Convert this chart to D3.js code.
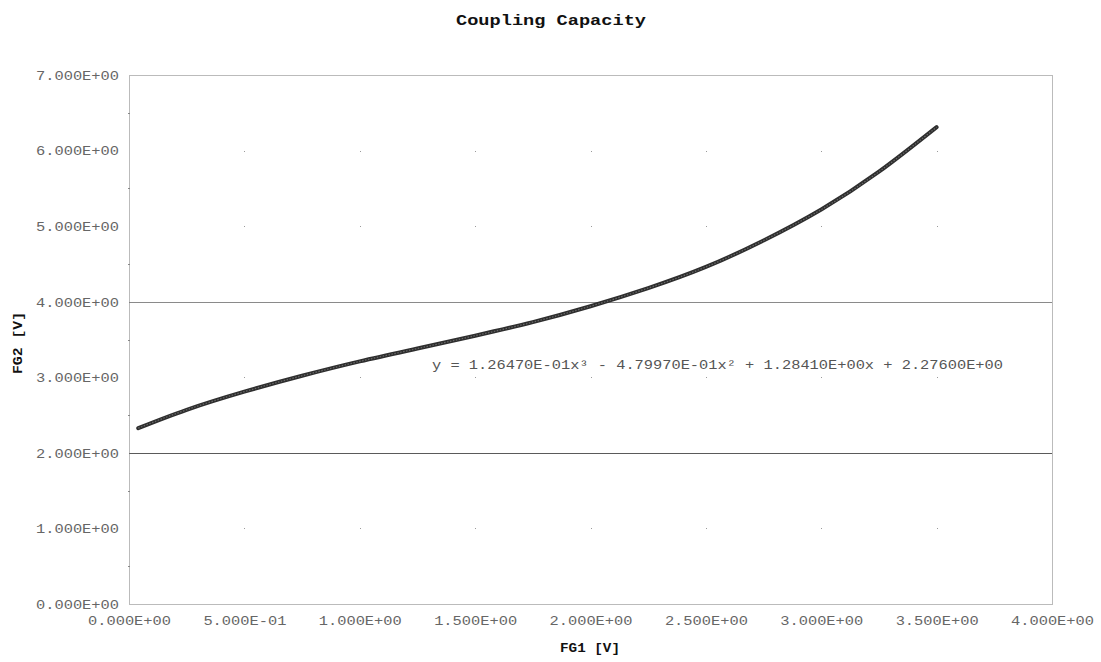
<!DOCTYPE html>
<html>
<head>
<meta charset="utf-8">
<script src="https://cdn.jsdelivr.net/npm/d3@7"></script>
<style>
  html, body { margin: 0; padding: 0; background: #fff; overflow: hidden; }
  svg { display: block; }
</style>
</head>
<body>
<svg id="chart" width="1101" height="662"></svg>
<script>
// Measured coupling curve: FG1 input vs FG2 response
const fg1Values = [0.04, 0.25, 0.5, 0.75, 1.0, 1.25, 1.5, 1.75, 2.0, 2.25, 2.5, 2.75, 3.0, 3.25, 3.5];
const fg2Values = [2.327, 2.57, 2.81, 3.02, 3.21, 3.38, 3.55, 3.73, 3.94, 4.18, 4.46, 4.81, 5.22, 5.72, 6.31];

const xTicks = [0, 0.5, 1.0, 1.5, 2.0, 2.5, 3.0, 3.5, 4.0];
const yTicks = [0, 1, 2, 3, 4, 5, 6, 7];
const solidGridY = [2, 4];
const trendText = "y = 1.26470E-01x³ - 4.79970E-01x² + 1.28410E+00x + 2.27600E+00";

const svg = d3.select("#chart");
const M = { left: 129, right: 1052, top: 75, bottom: 604 };

const x = d3.scaleLinear().domain([0, 4]).range([M.left, M.right]);
const y = d3.scaleLinear().domain([0, 7]).range([M.bottom, M.top]);

const fmt = v => {
  // Scientific label like 5.000E-01
  if (v === 0) return "0.000E+00";
  const e = Math.floor(Math.log10(Math.abs(v)));
  const m = v / Math.pow(10, e);
  const sign = e < 0 ? "-" : "+";
  return m.toFixed(3) + "E" + sign + String(Math.abs(e)).padStart(2, "0");
};

const mono = "'Liberation Mono', 'DejaVu Sans Mono', monospace";

// Title
svg.append("text")
  .attr("x", 551).attr("y", 25)
  .attr("text-anchor", "middle")
  .attr("font-family", mono).attr("font-weight", "bold")
  .attr("font-size", 15.5)
  .attr("textLength", 190).attr("lengthAdjust", "spacingAndGlyphs")
  .attr("fill", "#111")
  .text("Coupling Capacity");

// Solid horizontal gridlines
svg.append("g").selectAll("line").data(solidGridY).join("line")
  .attr("x1", M.left).attr("x2", M.right)
  .attr("y1", d => Math.round(y(d)) + 0.5).attr("y2", d => Math.round(y(d)) + 0.5)
  .attr("stroke", (d, i) => i === 0 ? "#5a5a5a" : "#8a8a8a")
  .attr("stroke-width", 1);

// Grid dots at the remaining intersections
const dotPts = [];
xTicks.filter(v => v > 0 && v < 4).forEach(xv => {
  yTicks.filter(v => v > 0 && v < 7 && !solidGridY.includes(v)).forEach(yv => dotPts.push([xv, yv]));
});
svg.append("g").selectAll("rect").data(dotPts).join("rect")
  .attr("x", d => Math.round(x(d[0])))
  .attr("y", d => Math.round(y(d[1])))
  .attr("width", 1).attr("height", 1)
  .attr("fill", "#9a9a9a");

// Plot frame (dotted)
svg.append("rect")
  .attr("x", M.left + 0.5).attr("y", M.top + 0.5)
  .attr("width", M.right - M.left).attr("height", M.bottom - M.top)
  .attr("fill", "none")
  .attr("stroke", "#777").attr("stroke-width", 1)
  .attr("stroke-dasharray", "1,1");

// Minor marks on the value axis
const minorY = d3.range(0.5, 7, 1);
svg.append("g").selectAll("line").data(minorY).join("line")
  .attr("x1", M.left - 1).attr("x2", M.left + 1)
  .attr("y1", d => Math.round(y(d)) + 0.5).attr("y2", d => Math.round(y(d)) + 0.5)
  .attr("stroke", "#888");

// Y axis labels
const yAxis = d3.axisLeft(y).tickValues(yTicks).tickFormat(fmt).tickSize(0).tickPadding(10);
const gy = svg.append("g").attr("transform", `translate(${M.left},0)`).call(yAxis);
gy.select(".domain").remove();
gy.selectAll("text")
  .attr("font-family", mono).attr("font-size", 13.5)
  .attr("fill", "#666")
  .attr("textLength", 83).attr("lengthAdjust", "spacingAndGlyphs");

// X axis labels
const xAxis = d3.axisBottom(x).tickValues(xTicks).tickFormat(fmt).tickSize(0).tickPadding(11);
const gx = svg.append("g").attr("transform", `translate(0,${M.bottom})`).call(xAxis);
gx.select(".domain").remove();
gx.selectAll("text")
  .attr("font-family", mono).attr("font-size", 13.5)
  .attr("fill", "#666")
  .attr("textLength", 83).attr("lengthAdjust", "spacingAndGlyphs");

// Axis titles
svg.append("text")
  .attr("x", 590).attr("y", 652)
  .attr("text-anchor", "middle")
  .attr("font-family", mono).attr("font-weight", "bold").attr("font-size", 12)
  .attr("textLength", 60).attr("lengthAdjust", "spacingAndGlyphs")
  .attr("fill", "#111")
  .text("FG1 [V]");

svg.append("text")
  .attr("transform", "translate(22,343) rotate(-90)")
  .attr("text-anchor", "middle")
  .attr("font-family", mono).attr("font-weight", "bold").attr("font-size", 12)
  .attr("textLength", 62).attr("lengthAdjust", "spacingAndGlyphs")
  .attr("fill", "#111")
  .text("FG2 [V]");

// Data curve
const pts = fg1Values.map((v, i) => [v, fg2Values[i]]);
const line = d3.line().x(d => x(d[0])).y(d => y(d[1])).curve(d3.curveNatural);
svg.append("path")
  .attr("d", line(pts))
  .attr("fill", "none")
  .attr("stroke", "#2e2e2e")
  .attr("stroke-width", 4)
  .attr("stroke-linecap", "round");
svg.append("path")
  .attr("d", line(pts))
  .attr("fill", "none")
  .attr("stroke", "#6a6a6a")
  .attr("stroke-width", 1.2)
  .attr("stroke-dasharray", "1.5,1.5");

// Trendline equation
svg.append("text")
  .attr("x", 432).attr("y", 369)
  .attr("font-family", mono).attr("font-size", 13.5)
  .attr("textLength", 571).attr("lengthAdjust", "spacingAndGlyphs")
  .attr("fill", "#555")
  .text(trendText);
</script>
</body>
</html>
